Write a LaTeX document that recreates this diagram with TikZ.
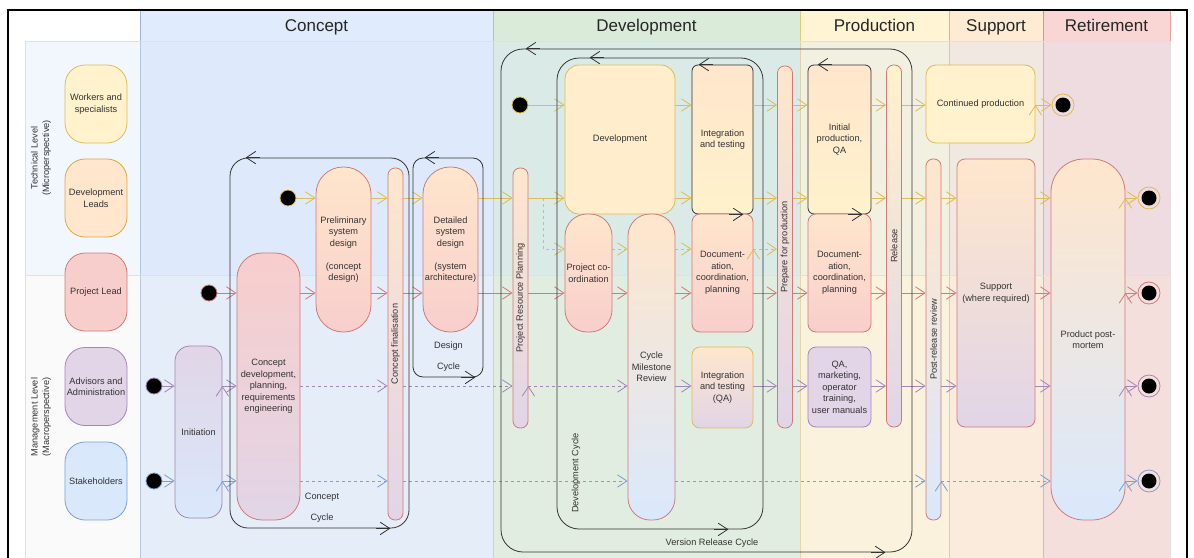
\documentclass[tikz,border=0pt]{standalone}
\usepackage{fontspec}
\setmainfont{Liberation Sans}
\usetikzlibrary{arrows.meta}

\definecolor{txt}{HTML}{333333}
\definecolor{yfill}{HTML}{FFF2CC}  % yellow
\definecolor{ofill}{HTML}{FFE6CC}  % peach
\definecolor{rfill}{HTML}{F8CECC}  % red
\definecolor{pfill}{HTML}{E1D5E7}  % lilac
\definecolor{bfill}{HTML}{DAE8FC}  % blue
\definecolor{gfill}{HTML}{D5E8D4}  % green
\definecolor{ystroke}{HTML}{DDBB55}
\definecolor{ostroke}{HTML}{DDA93A}
\definecolor{rstroke}{HTML}{D27A77}
\definecolor{pstroke}{HTML}{A386B5}
\definecolor{bstroke}{HTML}{7C9FD2}
\definecolor{gstroke}{HTML}{9CC48A}

\begin{document}
\begin{tikzpicture}[
        x = 1pt, y = -1pt, % one unit = one pixel, y grows downwards
        > = {Straight Barb[length=9.5pt, width=12.5pt]}, % open arrow head
        line width = 0.8pt,
        font = \fontsize{9.2}{11.5}\selectfont,
        every node/.append style = {text=txt, align=center, inner sep=0pt},
        phase/.style = {fill opacity=0.85, draw opacity=0.7},
        lane/.style = {fill opacity=0.35, draw=black!12},
        header/.style = {font=\fontsize{17}{20}\selectfont, text=black!85, anchor=base},
        role/.style = {draw, rounded corners=20pt, minimum width=62pt, minimum height=78pt},
        box/.style = {draw, rounded corners=8pt},
        wh/.style 2 args = {minimum width=#1, minimum height=#2},
        peachred/.style = {draw=rstroke, top color=ofill, bottom color=rfill},
        peachlilac/.style = {draw=rstroke, top color=ofill, bottom color=pfill},
        peachblue/.style = {draw=rstroke, top color=ofill, bottom color=bfill},
        bar/.style = {box, rounded corners=7pt, minimum width=15pt},
        startdot/.style = {circle, fill=black, minimum size=16pt},
        enddot/.style = {circle, minimum size=22pt,
            path picture={\fill[black] (path picture bounding box.center) circle (7.5pt);}},
        loopbox/.style = {draw=black!80},
        la/.style = {draw=black!80}, % arrow mark on a cycle
        ya/.style = {->, draw=ystroke}, yd/.style = {ya, dash pattern=on 3pt off 3pt},
        ra/.style = {->, draw=rstroke},
        pa/.style = {->, draw=pstroke}, pd/.style = {pa, dash pattern=on 3pt off 3pt},
        ba/.style = {->, draw=bstroke}, bd/.style = {ba, dash pattern=on 3pt off 3pt}
    ]
    \useasboundingbox (0,0) rectangle (1194,557);

    % phases
    \filldraw[phase, fill=bfill, draw=bstroke] (140,10) rectangle (493,570);
    \filldraw[phase, fill=gfill, draw=gstroke] (493,10) rectangle (800,570);
    \filldraw[phase, fill=yfill, draw=ystroke] (800,10) rectangle (949,570);
    \filldraw[phase, fill=ofill, draw=ostroke] (949,10) rectangle (1043,570);
    \filldraw[phase, fill=rfill, draw=rstroke] (1043,10) rectangle (1170,570);
    \node[header] (hConcept) at (316.5,31) {Concept};
    \node[header] (hDevelop) at (646.5,31) {Development};
    \node[header] (hProduct) at (874.5,31) {Production};
    \node[header] (hSupport) at (996,31) {Support};
    \node[header] (hRetire) at (1106.5,31) {Retirement};

    % lanes
    \filldraw[lane, fill=bfill] (25,41) rectangle (1170,275);
    \filldraw[lane, fill=black!6] (25,275) rectangle (1170,570);
    \node[rotate=90] (lTech) at (41,158) {Technical Level\\(Microperspective)};
    \node[rotate=90] (lMgmt) at (41,417) {Management Level\\(Macroperspective)};
    \draw[line width=1.2pt] (8,570) -- (8,10) -- (1187,10) -- (1187,570);

    % roles
    \node[role, draw=ystroke, fill=yfill] (Workers) at (96,104) {Workers and\\specialists};
    \node[role, draw=ostroke, fill=ofill] (Leads) at (96,198) {Development\\Leads};
    \node[role, draw=rstroke, fill=rfill] (PLead) at (96,292) {Project Lead};
    \node[role, draw=pstroke, fill=pfill] (Advisors) at (96,386.5) {Advisors and\\Administration};
    \node[role, draw=bstroke, fill=bfill] (Stake) at (96,481) {Stakeholders};

    \coordinate (rW) at (0,105);
    \coordinate (rL) at (0,198);
    \coordinate (rD) at (0,249);
    \coordinate (rP) at (0,293);
    \coordinate (rA) at (0,386);
    \coordinate (rS) at (0,481);

    % concept
    \node[box, rounded corners=15pt, wh={47pt}{172pt}, draw=pstroke, top color=pfill, bottom color=bfill] (Init) at (198.5,432) {Initiation};
    \node[box, rounded corners=25pt, wh={63pt}{267pt}, draw=rstroke, top color=rfill, bottom color=pfill] (CDev) at (268.5,386.5)
        {Concept\\development,\\planning,\\requirements\\engineering};
    \node[box, peachred, rounded corners=27pt, wh={55pt}{165pt}] (Prelim) at (343.5,249.5)
        {Preliminary\\system\\design\\[11.5pt](concept\\design)};
    \node[bar, peachlilac, minimum height=352pt, label={[rotate=90]center:Concept finalisation}] (CFin) at (395.5,344) {};
    \node[box, peachred, rounded corners=27pt, wh={55pt}{165pt}] (Detail) at (450.5,249.5)
        {Detailed\\system\\design\\[11.5pt](system\\architecture)};

    % development
    \node[bar, peachlilac, minimum height=260pt, label={[rotate=90]center:Project Resource Planning}] (PRP) at (520.5,298) {};
    \node[box, rounded corners=14pt, wh={110pt}{149pt}, draw=ystroke, fill=yfill!60!ofill] (Dev) at (620,139.5) {Development};
    \node[box, rounded corners=6pt, wh={61pt}{149pt}, draw=black!80, top color=ofill, bottom color=yfill] (IT) at (722.5,139.5) {Integration\\and testing};
    \node[box, peachred, rounded corners=22pt, wh={47pt}{118pt}] (PCo) at (588.5,273) {Project co-\\ordination};
    \node[box, peachblue, rounded corners=22pt, wh={47pt}{306pt}] (CMR) at (651.5,367) {Cycle\\Milestone\\Review};
    \node[box, peachred, wh={61pt}{118pt}] (DocD) at (722.5,273) {Document-\\ation,\\coordination,\\planning};
    \node[box, wh={61pt}{81pt}, draw=ystroke, top color=ofill, bottom color=pfill] (ITQA) at (722.5,387.5) {Integration\\and testing\\(QA)};
    \node[bar, peachlilac, minimum height=362pt, label={[rotate=90]center:Prepare for production}] (Prep) at (785,247) {};

    % production
    \node[box, rounded corners=6pt, wh={63pt}{149pt}, draw=black!80, top color=ofill, bottom color=yfill] (IPQ) at (839.5,139.5) {Initial\\production,\\QA};
    \node[box, peachred, wh={63pt}{118pt}] (DocP) at (839.5,273) {Document-\\ation,\\coordination,\\planning};
    \node[box, wh={63pt}{80pt}, draw=pstroke, fill=pfill] (QAM) at (839.5,387) {QA,\\marketing,\\operator\\training,\\user manuals};
    \node[bar, draw=rstroke, top color=yfill, bottom color=pfill, minimum height=362pt, label={[rotate=90]center:Release}] (Rel) at (894,246) {};
    \node[bar, peachblue, minimum height=361pt, label={[rotate=90]center:Post-release review}] (PRR) at (933.5,339.5) {};

    % support and retirement
    \node[box, rounded corners=10pt, wh={109pt}{78pt}, draw=ystroke, fill=yfill] (CProd) at (980.5,104) {Continued production};
    \node[box, peachlilac, wh={78pt}{268pt}] (Supp) at (996,293) {Support\\(where required)};
    \node[box, peachblue, rounded corners=33pt, wh={74pt}{361pt}] (PPM) at (1088,339.5) {Product post-\\mortem};

    % start and end points
    \node[startdot, draw=ystroke] (sWork) at (520,105) {};
    \node[startdot, draw=ystroke] (sLeads) at (288,198) {};
    \node[startdot, draw=rstroke] (sPLead) at (209,293) {};
    \node[startdot, draw=pstroke] (sAdv) at (154,386) {};
    \node[startdot, draw=bstroke] (sStake) at (154,481) {};
    \node[enddot, draw=ystroke] (eWork) at (1063,105) {};
    \node[enddot, draw=ystroke] (eLeads) at (1149,198) {};
    \node[enddot, draw=rstroke] (ePLead) at (1149,293) {};
    \node[enddot, draw=pstroke] (eAdv) at (1149,386) {};
    \node[enddot, draw=bstroke] (eStake) at (1149,481) {};

    % workers and specialists
    \path[ya] (sWork) edge (Dev.west |- rW)
        (Dev.east |- rW) edge (IT.west |- rW)
        (IT.east |- rW) edge (Prep.west |- rW)
        (Prep.east |- rW) edge (IPQ.west |- rW)
        (IPQ.east |- rW) edge (Rel.west |- rW)
        (Rel.east |- rW) edge (CProd.west |- rW)
        (CProd.east |- rW) edge (eWork);

    % development leads
    \path[ya] (sLeads) edge (Prelim.west |- rL)
        (Prelim.east |- rL) edge (CFin.west |- rL)
        (CFin.east |- rL) edge (Detail.west |- rL)
        (Detail.east |- rL) edge (PRP.west |- rL)
        (PRP.east |- rL) edge (Dev.west |- rL)
        (Dev.east |- rL) edge (IT.west |- rL)
        (IT.east |- rL) edge (Prep.west |- rL)
        (Prep.east |- rL) edge (IPQ.west |- rL)
        (IPQ.east |- rL) edge (Rel.west |- rL)
        (Rel.east |- rL) edge (PRR.west |- rL)
        (PRR.east |- rL) edge (Supp.west |- rL)
        (Supp.east |- rL) edge (PPM.west |- rL)
        (PPM.east |- rL) edge (eLeads);
    \coordinate (fork) at (543,198);
    \draw[yd] (fork) |- (PCo.west |- rD);
    \path[yd] (PCo.east |- rD) edge (CMR.west |- rD)
        (CMR.east |- rD) edge (DocD.west |- rD)
        (DocD.east |- rD) edge (Prep.west |- rD);

    % project lead
    \path[ra] (sPLead) edge (CDev.west |- rP)
        (CDev.east |- rP) edge (Prelim.west |- rP)
        (Prelim.east |- rP) edge (CFin.west |- rP)
        (CFin.east |- rP) edge (Detail.west |- rP)
        (Detail.east |- rP) edge (PRP.west |- rP)
        (PRP.east |- rP) edge (PCo.west |- rP)
        (PCo.east |- rP) edge (CMR.west |- rP)
        (CMR.east |- rP) edge (DocD.west |- rP)
        (DocD.east |- rP) edge (Prep.west |- rP)
        (Prep.east |- rP) edge (DocP.west |- rP)
        (DocP.east |- rP) edge (Rel.west |- rP)
        (Rel.east |- rP) edge (PRR.west |- rP)
        (PRR.east |- rP) edge (Supp.west |- rP)
        (Supp.east |- rP) edge (PPM.west |- rP)
        (PPM.east |- rP) edge (ePLead);

    % advisors
    \path[pa] (sAdv) edge (Init.west |- rA)
        (Init.east |- rA) edge (CDev.west |- rA);
    \path[pd] (CDev.east |- rA) edge (CFin.west |- rA)
        (CFin.east |- rA) edge (PRP.west |- rA)
        (PRP.east |- rA) edge (CMR.west |- rA);
    \path[pa] (CMR.east |- rA) edge (ITQA.west |- rA)
        (ITQA.east |- rA) edge (Prep.west |- rA)
        (Prep.east |- rA) edge (QAM.west |- rA)
        (QAM.east |- rA) edge (Rel.west |- rA)
        (Rel.east |- rA) edge (PRR.west |- rA)
        (PRR.east |- rA) edge (Supp.west |- rA)
        (Supp.east |- rA) edge (PPM.west |- rA)
        (PPM.east |- rA) edge (eAdv);

    % stakeholders
    \path[ba] (sStake) edge (Init.west |- rS)
        (Init.east |- rS) edge (CDev.west |- rS);
    \path[bd] (CDev.east |- rS) edge (CFin.west |- rS)
        (CFin.east |- rS) edge (CMR.west |- rS)
        (CMR.east |- rS) edge (PRR.west |- rS)
        (PRR.east |- rS) edge (PPM.west |- rS);
    \path[ba] (PPM.east |- rS) edge (eStake);

    % cycles
    \node[loopbox, rounded corners=18pt, wh={179pt}{370pt}] (ConCyc) at (319.5,343) {};
    \node[loopbox, rounded corners=10pt, wh={70pt}{219pt}] (DesCyc) at (448,267.5) {};
    \node[loopbox, rounded corners=22pt, wh={411pt}{503pt}] (RelCyc) at (706.5,300.5) {};
    \node[loopbox, rounded corners=22pt, wh={206pt}{471pt}] (DevCyc) at (660,293.5) {};
    \draw[la, <-] ([xshift=16pt]ConCyc.north west) -- +(14pt,0);
    \draw[la, ->] ([xshift=-33pt]ConCyc.south east) -- +(14pt,0);
    \draw[la, <-] ([xshift=12pt]DesCyc.north west) -- +(14pt,0);
    \draw[la, ->] ([xshift=-22pt]DesCyc.south east) -- +(14pt,0);
    \draw[la, <-] ([xshift=25pt]RelCyc.north west) -- +(14pt,0);
    \draw[la, ->] ([xshift=-41pt]RelCyc.south east) -- +(14pt,0);
    \draw[la, <-] ([xshift=33pt]DevCyc.north west) -- +(14pt,0);
    \draw[la, ->] ([xshift=-49pt]DevCyc.south east) -- +(14pt,0);
    \draw[la, <-] ([xshift=7pt]IT.north west) -- +(14pt,0);
    \draw[la, ->] ([xshift=-24pt]IT.south east) -- +(14pt,0);
    \draw[la, <-] ([xshift=10pt]IPQ.north west) -- +(14pt,0);
    \draw[la, ->] ([xshift=-23pt]IPQ.south east) -- +(14pt,0);
    \node (tConCyc) at (322,507.5) {Concept\\[9.5pt]Cycle};
    \node (tDesCyc) at (448.5,356.5) {Design\\[9.5pt]Cycle};
    \node (tRelCyc) at (712,543) {Version Release Cycle};
    \node[rotate=90] (tDevCyc) at (576,473) {Development Cycle};
\end{tikzpicture}
\end{document}
